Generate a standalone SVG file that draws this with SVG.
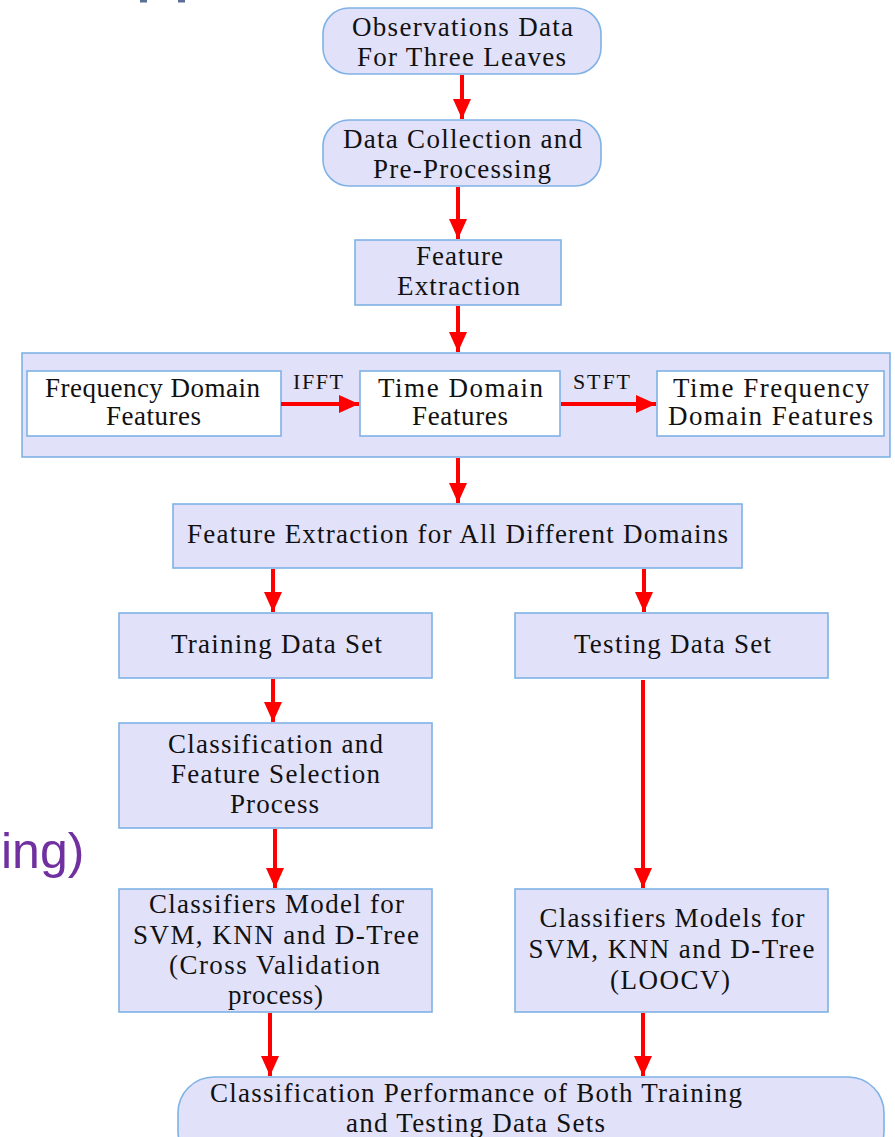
<svg xmlns="http://www.w3.org/2000/svg" width="895" height="1137" viewBox="0 0 895 1137">
<defs>
<style>
.box{fill:#e1e1fa;stroke:#7fb2e5;stroke-width:1.6}
.inner{fill:#ffffff;stroke:#7fb2e5;stroke-width:1.6}
.t{font-family:"Liberation Serif","Times New Roman",serif;font-size:27px;fill:#111;text-anchor:middle}
.lbl{font-family:"Liberation Serif","Times New Roman",serif;font-size:22px;fill:#111;text-anchor:middle}
.arr{stroke:#ff0000;stroke-width:4;fill:none;marker-end:url(#ah)}
</style>
<marker id="ah" markerUnits="userSpaceOnUse" markerWidth="20" markerHeight="18" refX="20" refY="9" orient="auto">
<path d="M0,0 L20,9 L0,18 z" fill="#ff0000"/>
</marker>
</defs>
<rect width="895" height="1137" fill="#ffffff"/>
<rect x="140" y="0" width="7" height="2.5" fill="#5a6e96"/>
<rect x="178" y="0" width="7" height="2.5" fill="#5a6e96"/>
<text x="1" y="868" font-family="'Liberation Sans',Arial,sans-serif" font-size="50" fill="#7030a0">ing)</text>

<g id="n1">
<rect class="box" x="323" y="8" width="278" height="66" rx="26"/>
<text class="t" x="462.5" y="36" textLength="221" lengthAdjust="spacing">Observations Data</text>
<text class="t" x="461.5" y="66" textLength="209" lengthAdjust="spacing">For Three Leaves</text>
</g>
<g id="n2">
<rect class="box" x="323" y="120" width="278" height="66" rx="26"/>
<text class="t" x="462.5" y="148" textLength="239" lengthAdjust="spacing">Data Collection and</text>
<text class="t" x="462" y="178" textLength="178" lengthAdjust="spacing">Pre-Processing</text>
</g>
<g id="n3">
<rect class="box" x="355" y="240" width="206" height="65"/>
<text class="t" x="459.5" y="265" textLength="87" lengthAdjust="spacing">Feature</text>
<text class="t" x="458.5" y="295" textLength="123" lengthAdjust="spacing">Extraction</text>
</g>
<g id="domains">
<rect class="box" x="22" y="353" width="868" height="104"/>
</g>
<g id="freq">
<rect class="inner" x="27" y="371" width="254" height="65"/>
<text class="t" x="152.5" y="397" textLength="215" lengthAdjust="spacing">Frequency Domain</text>
<text class="t" x="153.5" y="425" textLength="95" lengthAdjust="spacing">Features</text>
</g>
<g id="time">
<rect class="inner" x="360" y="371" width="200" height="65"/>
<text class="t" x="460.5" y="397" textLength="165" lengthAdjust="spacing">Time Domain</text>
<text class="t" x="460" y="425" textLength="96" lengthAdjust="spacing">Features</text>
</g>
<g id="tf">
<rect class="inner" x="657" y="371" width="227" height="65"/>
<text class="t" x="771" y="397" textLength="196" lengthAdjust="spacing">Time Frequency</text>
<text class="t" x="770.5" y="425" textLength="205" lengthAdjust="spacing">Domain Features</text>
</g>
<g id="n4">
<rect class="box" x="173" y="504" width="569" height="64"/>
<text class="t" x="457.5" y="543" textLength="541" lengthAdjust="spacing">Feature Extraction for All Different Domains</text>
</g>
<g id="train">
<rect class="box" x="119" y="613" width="313" height="65"/>
<text class="t" x="276.5" y="653" textLength="211" lengthAdjust="spacing">Training Data Set</text>
</g>
<g id="test">
<rect class="box" x="515" y="613" width="313" height="65"/>
<text class="t" x="672.5" y="653" textLength="197" lengthAdjust="spacing">Testing Data Set</text>
</g>
<g id="cfs">
<rect class="box" x="119" y="723" width="313" height="105"/>
<text class="t" x="275.5" y="753" textLength="215" lengthAdjust="spacing">Classification and</text>
<text class="t" x="275.5" y="783" textLength="209" lengthAdjust="spacing">Feature Selection</text>
<text class="t" x="274.5" y="813" textLength="89" lengthAdjust="spacing">Process</text>
</g>
<g id="cm1">
<rect class="box" x="119" y="889" width="313" height="123"/>
<text class="t" x="276.5" y="913" textLength="255" lengthAdjust="spacing">Classifiers Model for</text>
<text class="t" x="276" y="944" textLength="286" lengthAdjust="spacing">SVM, KNN and D-Tree</text>
<text class="t" x="274.5" y="974" textLength="211" lengthAdjust="spacing">(Cross Validation</text>
<text class="t" x="275.5" y="1004" textLength="95" lengthAdjust="spacing">process)</text>
</g>
<g id="cm2">
<rect class="box" x="515" y="889" width="313" height="123"/>
<text class="t" x="672" y="927" textLength="265" lengthAdjust="spacing">Classifiers Models for</text>
<text class="t" x="671.5" y="958" textLength="286" lengthAdjust="spacing">SVM, KNN and D-Tree</text>
<text class="t" x="670" y="989" textLength="120" lengthAdjust="spacing">(LOOCV)</text>
</g>
<g id="perf">
<rect class="box" x="178" y="1077" width="706" height="90" rx="36"/>
<text class="t" x="476" y="1102" textLength="532" lengthAdjust="spacing">Classification Performance of Both Training</text>
<text class="t" x="475.5" y="1132" textLength="259" lengthAdjust="spacing">and Testing Data Sets</text>
</g>

<g id="connectors">
<line class="arr" x1="462" y1="75" x2="462" y2="119"/>
<line class="arr" x1="458" y1="187" x2="458" y2="239"/>
<line class="arr" x1="458" y1="306" x2="458" y2="352"/>
<line class="arr" x1="281" y1="404" x2="359" y2="404"/>
<line class="arr" x1="561" y1="404" x2="656" y2="404"/>
<line class="arr" x1="458" y1="458" x2="458" y2="503"/>
<line class="arr" x1="273" y1="569" x2="273" y2="612"/>
<line class="arr" x1="644" y1="569" x2="644" y2="612"/>
<line class="arr" x1="273" y1="679" x2="273" y2="722"/>
<line class="arr" x1="275" y1="829" x2="275" y2="888"/>
<line class="arr" x1="643" y1="680" x2="643" y2="888"/>
<line class="arr" x1="270" y1="1013" x2="270" y2="1076"/>
<line class="arr" x1="643" y1="1013" x2="643" y2="1076"/>
<text class="lbl" x="318" y="389" textLength="50" lengthAdjust="spacing">IFFT</text>
<text class="lbl" x="601.5" y="389" textLength="57" lengthAdjust="spacing">STFT</text>
</g>
</svg>
